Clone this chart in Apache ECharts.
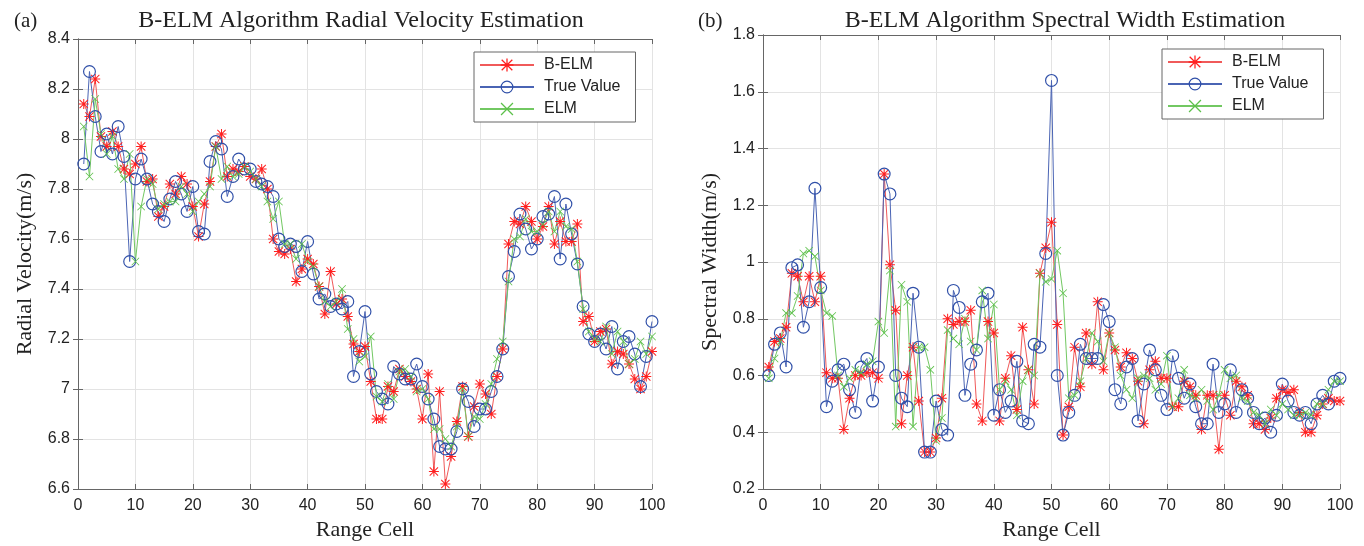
<!DOCTYPE html>
<html>
<head>
<meta charset="utf-8">
<script src="https://cdn.jsdelivr.net/npm/echarts@6/dist/echarts.min.js"></script>
<style>
  html, body { margin: 0; padding: 0; background: #fff; }
  #chart { width: 1364px; height: 546px; }
</style>
</head>
<body>
<div id="chart"></div>
<script>
// range cells 1..100
var velBELM = [8.14, 8.09, 8.24, 8.01, 7.97, 8.03, 7.97, 7.88, 7.86, 7.90,
  7.97, 7.83, 7.84, 7.69, 7.73, 7.82, 7.78, 7.85, 7.82, 7.73,
  7.61, 7.74, 7.83, 7.97, 8.02, 7.85, 7.88, 7.87, 7.89, 7.85,
  7.84, 7.88, 7.80, 7.60, 7.55, 7.54, 7.56, 7.43, 7.48, 7.52,
  7.50, 7.41, 7.30, 7.47, 7.34, 7.36, 7.29, 7.18, 7.15, 7.17,
  7.03, 6.88, 6.88, 7.01, 6.99, 7.08, 7.05, 7.03, 7.00, 6.88,
  7.06, 6.67, 6.99, 6.62, 6.73, 6.87, 7.01, 6.81, 6.93, 7.02,
  6.98, 6.90, 7.05, 7.16, 7.58, 7.67, 7.66, 7.73, 7.67, 7.60,
  7.65, 7.73, 7.58, 7.67, 7.59, 7.59, 7.66, 7.27, 7.29, 7.19,
  7.23, 7.24, 7.10, 7.15, 7.14, 7.10, 7.04, 7.00, 7.05, 7.15];
var velTrue = [7.90, 8.27, 8.09, 7.95, 8.02, 7.94, 8.05, 7.93, 7.51, 7.84,
  7.92, 7.84, 7.74, 7.71, 7.67, 7.76, 7.83, 7.78, 7.71, 7.81,
  7.63, 7.62, 7.91, 7.99, 7.96, 7.77, 7.85, 7.92, 7.88, 7.88,
  7.83, 7.82, 7.81, 7.77, 7.60, 7.57, 7.58, 7.57, 7.47, 7.59,
  7.46, 7.36, 7.38, 7.33, 7.34, 7.32, 7.35, 7.05, 7.15, 7.31,
  7.06, 6.99, 6.96, 6.94, 7.09, 7.06, 7.04, 7.04, 7.10, 7.01,
  6.96, 6.88, 6.77, 6.76, 6.76, 6.83, 7.00, 6.95, 6.85, 6.92,
  6.92, 6.99, 7.05, 7.16, 7.45, 7.55, 7.70, 7.64, 7.56, 7.60,
  7.69, 7.70, 7.77, 7.52, 7.74, 7.62, 7.50, 7.33, 7.22, 7.19,
  7.22, 7.16, 7.25, 7.08, 7.19, 7.21, 7.14, 7.01, 7.13, 7.27];
var velELM = [8.05, 7.85, 8.16, 8.02, 7.94, 8.01, 7.88, 7.84, 7.94, 7.51,
  7.73, 7.84, 7.82, 7.72, 7.74, 7.75, 7.75, 7.81, 7.78, 7.71,
  7.75, 7.78, 7.81, 7.97, 7.84, 7.89, 7.85, 7.86, 7.89, 7.87,
  7.84, 7.81, 7.75, 7.68, 7.75, 7.58, 7.58, 7.52, 7.58, 7.51,
  7.49, 7.41, 7.35, 7.33, 7.35, 7.40, 7.24, 7.20, 7.11, 7.13,
  7.21, 6.97, 6.95, 7.02, 6.96, 7.07, 7.08, 7.05, 6.99, 7.00,
  6.96, 6.84, 6.84, 6.80, 6.77, 6.85, 7.00, 6.81, 6.89, 6.88,
  6.94, 7.02, 7.12, 7.19, 7.43, 7.60, 7.61, 7.68, 7.63, 7.63,
  7.66, 7.71, 7.63, 7.71, 7.65, 7.64, 7.51, 7.32, 7.23, 7.20,
  7.19, 7.25, 7.14, 7.23, 7.19, 7.10, 7.12, 7.19, 7.14, 7.21];

var swBELM = [0.63, 0.72, 0.73, 0.77, 0.96, 0.95, 0.86, 0.95, 0.86, 0.95,
  0.61, 0.59, 0.59, 0.41, 0.52, 0.60, 0.60, 0.61, 0.61, 0.59,
  1.31, 0.99, 0.83, 0.43, 0.60, 0.70, 0.51, 0.33, 0.33, 0.38,
  0.52, 0.80, 0.78, 0.79, 0.79, 0.83, 0.50, 0.44, 0.79, 0.75,
  0.44, 0.59, 0.67, 0.48, 0.77, 0.62, 0.50, 0.96, 1.05, 1.14,
  0.78, 0.39, 0.49, 0.70, 0.56, 0.75, 0.64, 0.86, 0.62, 0.75,
  0.69, 0.63, 0.68, 0.66, 0.58, 0.43, 0.62, 0.65, 0.59, 0.59,
  0.49, 0.49, 0.58, 0.56, 0.53, 0.41, 0.53, 0.53, 0.34, 0.53,
  0.46, 0.58, 0.56, 0.53, 0.43, 0.43, 0.41, 0.45, 0.52, 0.55,
  0.54, 0.55, 0.47, 0.40, 0.40, 0.46, 0.50, 0.52, 0.51, 0.51];
var swTrue = [0.60, 0.71, 0.75, 0.63, 0.98, 0.99, 0.77, 0.86, 1.26, 0.91,
  0.49, 0.58, 0.62, 0.64, 0.55, 0.47, 0.63, 0.66, 0.51, 0.63,
  1.31, 1.24, 0.60, 0.52, 0.49, 0.89, 0.70, 0.33, 0.33, 0.51,
  0.41, 0.39, 0.90, 0.84, 0.53, 0.64, 0.69, 0.86, 0.89, 0.46,
  0.55, 0.47, 0.51, 0.65, 0.44, 0.43, 0.71, 0.70, 1.03, 1.64,
  0.60, 0.39, 0.47, 0.53, 0.71, 0.66, 0.66, 0.66, 0.85, 0.79,
  0.55, 0.50, 0.63, 0.66, 0.44, 0.57, 0.69, 0.62, 0.53, 0.48,
  0.67, 0.59, 0.52, 0.57, 0.49, 0.43, 0.43, 0.64, 0.47, 0.50,
  0.62, 0.47, 0.55, 0.52, 0.47, 0.43, 0.45, 0.40, 0.46, 0.57,
  0.51, 0.47, 0.46, 0.47, 0.43, 0.50, 0.53, 0.50, 0.58, 0.59];
var swELM = [0.59, 0.66, 0.72, 0.82, 0.82, 0.88, 1.03, 1.04, 1.02, 0.90,
  0.82, 0.81, 0.60, 0.56, 0.59, 0.62, 0.61, 0.64, 0.65, 0.79,
  0.75, 0.97, 0.42, 0.92, 0.86, 0.42, 0.70, 0.70, 0.62, 0.37,
  0.45, 0.76, 0.73, 0.71, 0.80, 0.72, 0.69, 0.90, 0.73, 0.85,
  0.55, 0.58, 0.55, 0.46, 0.58, 0.62, 0.60, 0.96, 0.93, 0.94,
  1.04, 0.89, 0.52, 0.53, 0.58, 0.66, 0.75, 0.72, 0.65, 0.75,
  0.70, 0.60, 0.55, 0.52, 0.59, 0.60, 0.59, 0.55, 0.57, 0.67,
  0.49, 0.52, 0.62, 0.53, 0.52, 0.55, 0.51, 0.48, 0.53, 0.62,
  0.59, 0.60, 0.52, 0.51, 0.47, 0.46, 0.43, 0.48, 0.46, 0.50,
  0.48, 0.46, 0.46, 0.47, 0.46, 0.50, 0.50, 0.55, 0.58, 0.58];

var seriesNames = ['B-ELM', 'True Value', 'ELM'];

var serif = '"Liberation Serif", "Times New Roman", serif';
var sans = '"Liberation Sans", Arial, sans-serif';

var starPath = 'path://M0,4.5L10,4.5L10,5.5L0,5.5ZM4.5,0L5.5,0L5.5,10L4.5,10Z' +
  'M1.2,0.5L9.5,8.8L8.8,9.5L0.5,1.2ZM8.8,0.5L9.5,1.2L1.2,9.5L0.5,8.8Z';
var ringPath = 'path://M10,0A10,10,0,1,1,10,20A10,10,0,1,1,10,0Z' +
  'M10,1.8A8.2,8.2,0,1,0,10,18.2A8.2,8.2,0,1,0,10,1.8Z';
var crossPath = 'path://M0.7,0L10,9.3L9.3,10L0,0.7ZM9.3,0L10,0.7L0.7,10L0,9.3Z';

var styles = [
  { symbol: starPath, size: 10, mark: '#ff2020', line: '#f05a5a' },
  { symbol: ringPath, size: 13, mark: '#2f4fa8', line: '#4a64b4' },
  { symbol: crossPath, size: 8, mark: '#5cc04a', line: '#72c862' }
];

function pairs(arr) {
  return arr.map(function (v, i) { return [i + 1, v]; });
}

function mkSeries(name, data, idx, st) {
  return {
    name: name,
    type: 'line',
    xAxisIndex: idx * 2,
    yAxisIndex: idx * 2,
    data: pairs(data),
    symbol: st.symbol,
    symbolSize: st.size,
    showAllSymbol: true,
    itemStyle: { color: st.mark },
    lineStyle: { color: st.line, width: 1 },
    emphasis: { disabled: true }
  };
}

function mainX(gi) {
  return {
    type: 'value', gridIndex: gi, min: 0, max: 100, interval: 10,
    name: 'Range Cell', nameLocation: 'middle', nameGap: 30,
    nameTextStyle: { fontFamily: serif, fontSize: 22, color: '#222' },
    axisLine: { lineStyle: { color: '#666' } },
    axisTick: { inside: true, length: 5, lineStyle: { color: '#666' } },
    axisLabel: { fontFamily: sans, fontSize: 16, color: '#222', margin: 9 },
    splitLine: { show: true, lineStyle: { color: '#e3e3e3' } }
  };
}
function topX(gi) {
  return {
    type: 'value', gridIndex: gi, position: 'top', min: 0, max: 100, interval: 10,
    axisLine: { lineStyle: { color: '#666' } },
    axisTick: { inside: true, length: 5, lineStyle: { color: '#666' } },
    axisLabel: { show: false }, splitLine: { show: false }
  };
}
function mainY(gi, name, min, max) {
  return {
    type: 'value', gridIndex: gi, min: min, max: max, interval: 0.2,
    name: name, nameLocation: 'middle', nameGap: 42,
    nameTextStyle: { fontFamily: serif, fontSize: 22, color: '#222' },
    axisLine: { show: true, lineStyle: { color: '#666' } },
    axisTick: { show: true, inside: true, length: 5, lineStyle: { color: '#666' } },
    axisLabel: { fontFamily: sans, fontSize: 16, color: '#222', margin: 8 },
    splitLine: { show: true, lineStyle: { color: '#e3e3e3' } }
  };
}
function rightY(gi, min, max) {
  return {
    type: 'value', gridIndex: gi, position: 'right', min: min, max: max, interval: 0.2,
    axisLine: { show: true, lineStyle: { color: '#666' } },
    axisTick: { show: true, inside: true, length: 5, lineStyle: { color: '#666' } },
    axisLabel: { show: false }, splitLine: { show: false }
  };
}
function legendAt(left, top) {
  return {
    orient: 'vertical', left: left, top: top,
    data: seriesNames,
    backgroundColor: '#fff',
    borderColor: '#666', borderWidth: 1, borderRadius: 0,
    padding: [5, 15, 5, 5],
    itemWidth: 54, itemHeight: 16, itemGap: 6,
    textStyle: { fontFamily: sans, fontSize: 16, color: '#222', padding: [0, 0, 0, 5] },
    selectedMode: false
  };
}

var chart = echarts.init(document.getElementById('chart'));
var option = {
  animation: false,
  backgroundColor: '#fff',
  title: [
    { text: 'B-ELM Algorithm Radial Velocity Estimation', left: 356, top: 4, textAlign: 'center',
      textStyle: { fontFamily: serif, fontSize: 24, fontWeight: 'normal', color: '#222' } },
    { text: 'B-ELM Algorithm Spectral Width Estimation', left: 1060, top: 4, textAlign: 'center',
      textStyle: { fontFamily: serif, fontSize: 24, fontWeight: 'normal', color: '#222' } },
    { text: '(a)', left: 9, top: 6,
      textStyle: { fontFamily: serif, fontSize: 21, fontWeight: 'normal', color: '#222' } },
    { text: '(b)', left: 693, top: 6,
      textStyle: { fontFamily: serif, fontSize: 21, fontWeight: 'normal', color: '#222' } }
  ],
  legend: [legendAt(474, 52), legendAt(1162, 49)],
  grid: [
    { left: 78, top: 39, width: 574, height: 452 },
    { left: 763, top: 35, width: 577, height: 455 }
  ],
  xAxis: [mainX(0), topX(0), mainX(1), topX(1)],
  yAxis: [
    mainY(0, 'Radial Velocity(m/s)', 6.6, 8.4), rightY(0, 6.6, 8.4),
    mainY(1, 'Spectral Width(m/s)', 0.2, 1.8), rightY(1, 0.2, 1.8)
  ],
  series: [
    mkSeries(seriesNames[0], velBELM, 0, styles[0]),
    mkSeries(seriesNames[1], velTrue, 0, styles[1]),
    mkSeries(seriesNames[2], velELM, 0, styles[2]),
    mkSeries(seriesNames[0], swBELM, 1, styles[0]),
    mkSeries(seriesNames[1], swTrue, 1, styles[1]),
    mkSeries(seriesNames[2], swELM, 1, styles[2])
  ]
};
chart.setOption(option);
</script>
</body>
</html>
